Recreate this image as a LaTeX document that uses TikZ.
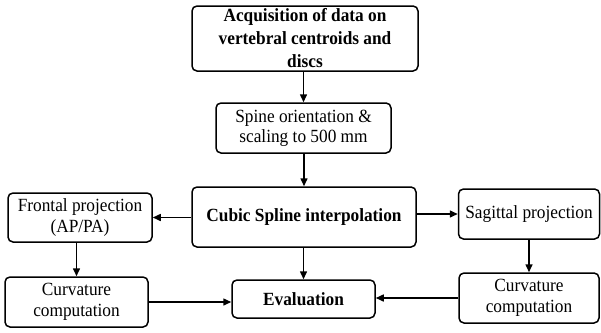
\documentclass[tikz,border=0pt]{standalone}
\usepackage{fontspec}
\setmainfont[FakeStretch=0.93]{Liberation Serif}
\usetikzlibrary{arrows.meta}
\begin{document}
\begin{tikzpicture}[x=1pt,y=-1pt,
  box/.style={draw, line width=1.5pt, rounded corners=5pt, align=center, inner sep=0pt,
    font=\fontsize{18.6}{21}\selectfont},
  arr/.style={line width=1.5pt, -{Triangle[length=8pt,width=7pt]}}]
\useasboundingbox (0,0) rectangle (601,332);
\node[box, minimum width=226pt, minimum height=65pt, font=\fontsize{18.6}{23}\selectfont\bfseries] (A) at (305,38.5)
  {Acquisition of data on\\vertebral centroids and\\discs};
\node[box, minimum width=175pt, minimum height=50pt, font=\fontsize{18.6}{20}\selectfont] (B) at (303.5,128)
  {Spine orientation \&\\scaling to 500 mm};
\node[box, minimum width=224pt, minimum height=60pt] (C) at (304,217)
  {\bfseries Cubic Spline interpolation};
\node[box, minimum width=144pt, minimum height=49pt] (F) at (80,217.5)
  {Frontal projection\\(AP/PA)};
\node[box, minimum width=141pt, minimum height=50pt] (S) at (529,214)
  {Sagittal projection};
\node[box, minimum width=143pt, minimum height=50pt] (CL) at (76.5,302)
  {Curvature\\computation};
\node[box, minimum width=143pt, minimum height=38pt] (E) at (303.5,299)
  {\bfseries Evaluation};
\node[box, minimum width=140pt, minimum height=50pt] (CR) at (529,298)
  {Curvature\\computation};
\draw[arr] (B.north |- A.south) -- (B.north);
\draw[arr] (B.south -| C.north) -- (C.north);
\draw[arr] (C.west |- F.east) -- (F.east);
\draw[arr] (C.east |- S.west) -- (S.west);
\draw[arr] (C.south -| E.north) -- (E.north);
\draw[arr] (F.south -| CL.north) -- (CL.north);
\draw[arr] (S.south -| CR.north) -- (CR.north);
\draw[arr] (CL.east) -- (E.west |- CL.east);
\draw[arr] (CR.west) -- (E.east |- CR.west);
\end{tikzpicture}
\end{document}
